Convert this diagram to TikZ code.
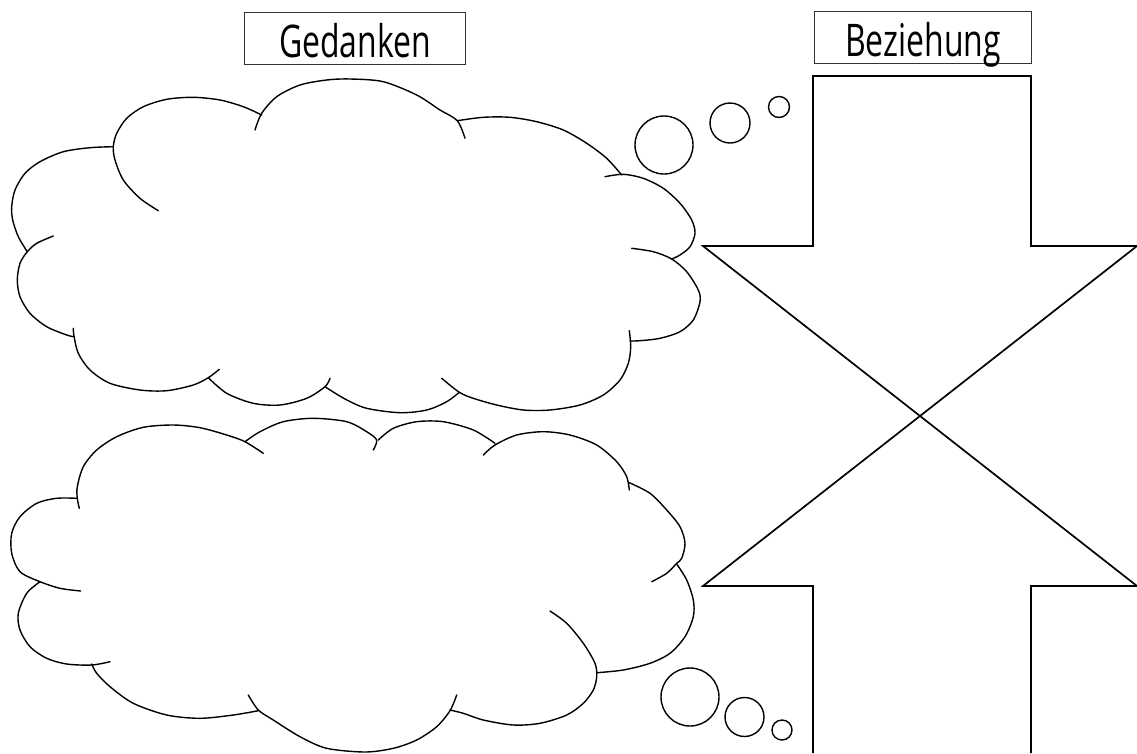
\documentclass[tikz,border=0pt]{standalone}
\usepackage{fontspec}
\newfontfamily\labelfont[FakeStretch=0.71]{Open Sans}
\begin{document}
\begin{tikzpicture}[x=1pt, y=-1pt,
  lobe/.style={line width=1.4pt, line cap=round, line join=round},
  arrowline/.style={line width=1.7pt, line join=miter},
  bubble/.style={circle, draw, line width=1.4pt, inner sep=0pt},
  titlebox/.style={draw=black!80, line width=1.1pt, inner sep=0pt,
    minimum width=221pt, text height=45pt, text depth=7pt,
    font=\labelfont\fontsize{45}{50}\selectfont}]
\useasboundingbox (0,0) rectangle (1137,753);

% titles
\node[titlebox, anchor=north west] (gedanken) at (244,12) {Gedanken};
\node[titlebox, anchor=north west, minimum width=217pt] (beziehung) at (814,11) {Beziehung};

% upper thought cloud, one arc per lobe
\draw[lobe] plot[smooth] coordinates {(53.3,236) (36.7,243.3) (27.3,251.7) (20,263.3) (17.3,280) (20,296.7) (30,313.3) (46.7,326.7) (66.7,335) (74,336.7)};
\draw[lobe] plot[smooth] coordinates {(73.3,328.3) (74,336) (78.3,353.3) (90,370) (110,383.3) (140,390) (166.7,390.7) (193.3,385) (208.3,377.7) (219.3,369.3)};
\draw[lobe] plot[smooth] coordinates {(208.3,377.7) (226.7,393.3) (253.3,403.3) (280,405) (306.7,398.3) (325,386.7) (330,378.3)};
\draw[lobe] plot[smooth] coordinates {(325,386.7) (345,399) (366.7,408.3) (400,412.7) (426.7,410) (446.7,401.7) (459.3,392.3)};
\draw[lobe] plot[smooth] coordinates {(629.3,330.7) (630.7,346.7) (628.3,363.3) (620,380) (603.3,395) (580,405) (550,410) (523.3,410) (496.7,405) (473.3,398.3) (459.3,392.3) (441.7,378.3)};
\draw[lobe] plot[smooth] coordinates {(631.7,248.3) (653.3,251.7) (671.7,259) (686.7,271.7) (698.3,290) (700,301.7) (693.3,320) (680,331.7) (660,338.3) (640,340.7) (630,341)};
\draw[lobe] plot[smooth] coordinates {(605,176.7) (623.3,174.3) (643.3,178.3) (663.3,188.3) (680,203.3) (691.7,220) (695,233.3) (690,246.7) (680,255) (671.7,259)};
\draw[lobe] plot[smooth] coordinates {(457.3,120.7) (483.3,117.3) (510,117.3) (536.7,121.7) (563.3,130) (586.7,143.3) (606.7,158.3) (621.7,175)};
\draw[lobe] plot[smooth] coordinates {(255,130) (261.7,113.3) (276.7,96.7) (300,85) (326.7,80) (350,79) (383.3,81.7) (416.7,95) (440,110) (457.3,120.7) (465,138.3)};
\draw[lobe] plot[smooth] coordinates {(158.3,210.7) (140,198.3) (123.3,180) (115,160) (113.3,146.7) (116.7,133.3) (126.7,118.3) (143.3,106.7) (166.7,99.3) (193.3,97.3) (220,100) (243.3,106.7) (261.7,115)};
\draw[lobe] plot[smooth] coordinates {(27.3,251.7) (18.3,236.7) (12.7,220) (11.7,206.7) (15,190) (25,173.3) (40,161.7) (63.3,151.7) (90,147.7) (113.3,146.7)};

% lower thought cloud
\draw[lobe] plot[smooth] coordinates {(77.3,498.3) (56.7,498.3) (36.7,503.3) (20,516.7) (11.7,533.3) (11.7,553.3) (20,571.7) (40,581.7) (60,588.3) (80.7,591)};
\draw[lobe] plot[smooth] coordinates {(40,581.7) (26.7,593.3) (18.3,613.3) (20,630) (30,646.7) (46.7,658.3) (66.7,664) (91.7,665) (110,661.7)};
\draw[lobe] plot[smooth] coordinates {(258.3,710.7) (233.3,715) (200,718.3) (166.7,715) (133.3,703.3) (110,686.7) (96.7,673.3) (91.7,664)};
\draw[lobe] plot[smooth] coordinates {(456.7,695) (450,710.7) (436.7,726.7) (416.7,740) (393.3,748.3) (365,752) (326.7,748.3) (300,736.7) (273.3,720) (258.3,710) (248.3,695)};
\draw[lobe] plot[smooth] coordinates {(550,611) (566.7,623.3) (583.3,643.3) (595,663.3) (596.7,676.7) (593.3,690) (583.3,703.3) (566.7,715) (540,723.3) (513.3,725) (483.3,720) (463.3,713.3) (450,710)};
\draw[lobe] plot[smooth] coordinates {(676.7,564) (686.7,580) (693.3,600) (693.3,616.7) (685,636.7) (670,653.3) (650,663.3) (623.3,670) (596.7,672.7)};
\draw[lobe] plot[smooth] coordinates {(629.3,482.7) (650,493.3) (666.7,510) (680,526.7) (685,543.3) (681.7,558.3) (676.7,563.3) (666.7,573.3) (651.7,581.7)};
\draw[lobe] plot[smooth] coordinates {(483.3,455) (495,445) (516.7,435) (543.3,431.7) (570,435) (596.7,445) (616.7,461.7) (626.7,476.7) (629.3,490)};
\draw[lobe] plot[smooth] coordinates {(378.3,440) (393.3,428.3) (416.7,421.7) (443.3,421.7) (473.3,430) (495,443.3)};
\draw[lobe] plot[smooth] coordinates {(245,441.7) (260,431.7) (283.3,421.7) (313.3,418.3) (346.7,421.7) (366.7,431.7) (376.7,440) (373.3,450)};
\draw[lobe] plot[smooth] coordinates {(79.3,508.3) (77.3,498.3) (77.3,486.7) (83.3,466.7) (96.7,450) (116.7,436.7) (143.3,427.3) (173.3,425) (200,427.7) (226.7,435) (245,441.7) (263.3,453.3)};

% thought bubbles
\node[bubble, minimum size=58pt] (ub1) at (664,145) {};
\node[bubble, minimum size=40pt] (ub2) at (730,123) {};
\node[bubble, minimum size=21pt] (ub3) at (779,107) {};
\node[bubble, minimum size=58pt] (lb1) at (690,697) {};
\node[bubble, minimum size=39pt] (lb2) at (744.5,717) {};
\node[bubble, minimum size=20pt] (lb3) at (782,730) {};

% two crossing arrows
\coordinate (ta) at (813,76);
\coordinate (tb) at (1031,76);
\coordinate (hl) at (703,246);
\coordinate (hr) at (1137,246);
\coordinate (bl) at (703,586);
\coordinate (br) at (1137,586);
\draw[arrowline] (813,753) -- (813,586) -- (bl) -- (hr) -- (1031,246) -- (tb) -- (ta) -- (813,246) -- (hl) -- (br) -- (1031,586) -- (1031,753);
\end{tikzpicture}
\end{document}
